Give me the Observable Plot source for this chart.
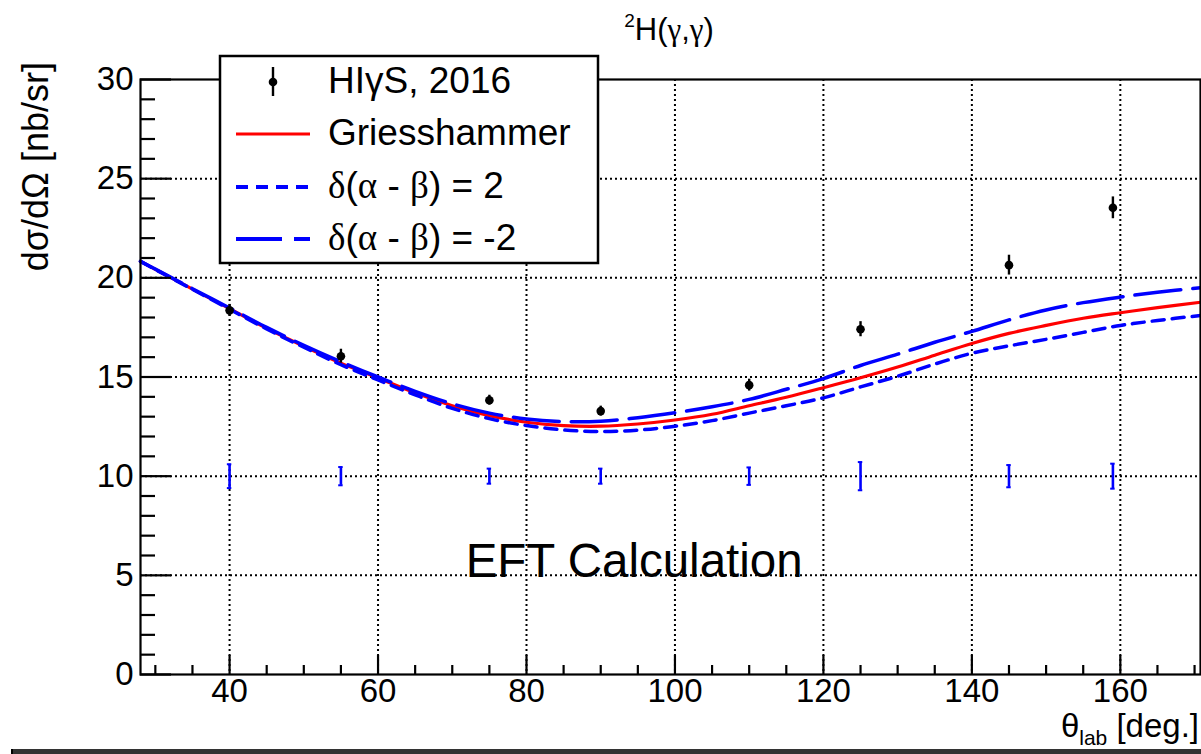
<!DOCTYPE html>
<html><head><meta charset="utf-8">
<script src="https://cdn.jsdelivr.net/npm/d3@7"></script>
<script src="https://cdn.jsdelivr.net/npm/@observablehq/plot@0.6"></script>
<style>
body{margin:0;background:#fff;width:1201px;height:754px;overflow:hidden;position:relative;font-family:"Liberation Sans",Arial,Helvetica,sans-serif}
#chart svg{overflow:visible}
#bar{position:absolute;left:11px;top:749px;width:1188px;height:5px;background:#333;border-left:2px solid #000}
</style></head><body><div id="chart"></div><div id="bar"></div>
<script>
// Curve abscissae (theta_lab, deg)
const theta = [28,30,35,40,45,50,55,60,65,70,75,80,85,90,95,100,105,110,115,120,125,130,135,140,145,150,155,160,165,170.8];
// Griesshammer EFT (solid red)
const griesshammer = [20.83,20.43,19.43,18.45,17.45,16.55,15.7,14.95,14.2,13.55,13.05,12.72,12.55,12.52,12.63,12.83,13.12,13.55,13.98,14.46,14.96,15.5,16.1,16.69,17.2,17.6,17.96,18.24,18.5,18.77];
// delta(alpha - beta) = 2 (short dash)
const deltaPlus2 = [20.83,20.42,19.42,18.42,17.42,16.5,15.62,14.85,14.1,13.42,12.9,12.55,12.33,12.25,12.32,12.52,12.8,13.18,13.55,13.95,14.5,15.04,15.65,16.2,16.57,16.9,17.25,17.6,17.85,18.1];
// delta(alpha - beta) = -2 (long dash)
const deltaMinus2 = [20.83,20.44,19.45,18.48,17.5,16.6,15.77,15.0,14.28,13.65,13.18,12.88,12.75,12.77,12.95,13.2,13.5,13.87,14.38,14.92,15.58,16.15,16.75,17.3,17.88,18.38,18.75,19.03,19.27,19.5];
// HIgS 2016 data
const dataTheta = [40,55,75,90,110,125,145,159];
const dataValue = [18.36,16.05,13.83,13.28,14.59,17.41,20.64,23.53];
const dataError = [0.3,0.35,0.25,0.25,0.3,0.38,0.5,0.55];
// systematic errors drawn at level 10
const sysLevel = 10;
const sysError = [0.6,0.46,0.38,0.38,0.44,0.71,0.56,0.63];
// axes
const xDomain = [28,170.8];
const yDomain = [0,30];
const xTicks = [40,60,80,100,120,140,160];
const xMinor = d3.range(30,171,5).filter(d => d % 20 !== 0);
const yTicks = [0,5,10,15,20,25,30];
const yMinor = d3.range(1,30,1).filter(d => d % 5 !== 0);
const annotation = {text:"EFT Calculation", theta:71.8, value:4.9};

const curves = [];
theta.forEach((t,i) => {
  curves.push({t, v: griesshammer[i], s: "g"});
  curves.push({t, v: deltaPlus2[i], s: "p"});
  curves.push({t, v: deltaMinus2[i], s: "m"});
});
const points = dataTheta.map((t,i) => ({t, v: dataValue[i], e: dataError[i], s: sysError[i]}));

const font = '"Liberation Sans", Arial, Helvetica, sans-serif';
const grid = {stroke:"#000", strokeWidth:2, strokeDasharray:"2,3", strokeOpacity:1};

const W = 1201, H = 749, mL = 140, mR = 1, mT = 79, mB = 75;
const innerW = W - mL - mR, innerH = H - mT - mB;
const tickStyle = {stroke:"#000", strokeWidth:2.2, strokeOpacity:1};

const plot = Plot.plot({
  width: W, height: H,
  marginLeft: mL, marginRight: mR, marginTop: mT, marginBottom: mB,
  style: {fontFamily: font, background: "transparent", overflow: "visible"},
  x: {domain: xDomain, axis: null},
  y: {domain: yDomain, axis: null},
  marks: [
    Plot.ruleX(xTicks, {x: d => d, ...grid}),
    Plot.ruleY(yTicks.filter(d => d > 0 && d < 30), {y: d => d, ...grid}),
    Plot.line(curves.filter(d => d.s === "g"), {x:"t", y:"v", stroke:"#ff0000", strokeWidth:3.2, curve:"catmull-rom"}),
    Plot.line(curves.filter(d => d.s === "p"), {x:"t", y:"v", stroke:"#0000ff", strokeWidth:3.5, strokeDasharray:"12,8", curve:"catmull-rom"}),
    Plot.line(curves.filter(d => d.s === "m"), {x:"t", y:"v", stroke:"#0000ff", strokeWidth:3.5, strokeDasharray:"46,12", curve:"catmull-rom"}),
    // systematic error bars
    Plot.ruleX(points, {x:"t", y1: d => sysLevel - d.s, y2: d => sysLevel + d.s, stroke:"#0000ff", strokeWidth:2.6}),
    Plot.ruleY(points, {y: d => sysLevel - d.s, x1: d => d.t - 0.3, x2: d => d.t + 0.3, stroke:"#0000ff", strokeWidth:2}),
    Plot.ruleY(points, {y: d => sysLevel + d.s, x1: d => d.t - 0.3, x2: d => d.t + 0.3, stroke:"#0000ff", strokeWidth:2}),
    // data
    Plot.ruleX(points, {x:"t", y1: d => d.v - d.e, y2: d => d.v + d.e, stroke:"#000", strokeWidth:2.4}),
    Plot.dot(points, {x:"t", y:"v", r:4.3, fill:"#000", stroke:"none"}),
    // annotation
    Plot.text([annotation], {x:"theta", y:"value", text:"text", textAnchor:"start", lineAnchor:"bottom", fontSize:47.5, fill:"#000", fontFamily: font}),
    // ticks (inside)
    Plot.ruleX(xTicks, {x: d => d, insetTop: innerH - 19, ...tickStyle}),
    Plot.ruleX(xMinor, {x: d => d, insetTop: innerH - 9, ...tickStyle}),
    Plot.ruleY(yTicks, {y: d => d, insetRight: innerW - 31, ...tickStyle}),
    Plot.ruleY(yMinor, {y: d => d, insetRight: innerW - 15, ...tickStyle}),
    Plot.frame({stroke:"#000", strokeWidth:2.2}),
    // tick labels
    Plot.text(xTicks, {x: d => d, text: d => String(d), frameAnchor:"bottom", dy:27, fontSize:33, fill:"#000", fontFamily: font}),
    Plot.text(yTicks, {y: d => d, text: d => String(d), frameAnchor:"left", dx:-7, textAnchor:"end", fontSize:33, fill:"#000", fontFamily: font})
  ]
});
document.getElementById("chart").appendChild(plot);

// titles and legend (SVG text)
const svg = d3.select(plot);
const serif = '"Liberation Serif", "Times New Roman", serif';

const title = svg.append("text").attr("x", 669).attr("y", 40).attr("text-anchor","middle")
  .attr("font-size", 31).attr("font-family", font).attr("fill","#000");
title.append("tspan").attr("font-size", 19).attr("dy", -13).text("2");
title.append("tspan").attr("dy", 13).text("H(");
title.append("tspan").attr("font-family", serif).text("γ");
title.append("tspan").text(",");
title.append("tspan").attr("font-family", serif).text("γ");
title.append("tspan").text(")");

svg.append("text").attr("transform","translate(48,62) rotate(-90)").attr("text-anchor","end")
  .attr("font-size", 36).attr("font-family", font).attr("fill","#000").text("dσ/dΩ [nb/sr]");

const xt = svg.append("text").attr("x", 1199).attr("y", 737).attr("text-anchor","end")
  .attr("font-size", 33).attr("font-family", font).attr("fill","#000");
xt.append("tspan").text("θ");
xt.append("tspan").attr("font-size", 21).attr("dy", 8).text("lab");
xt.append("tspan").attr("dy", -8).text(" [deg.]");

// legend
const lg = svg.append("g");
lg.append("rect").attr("x", 220).attr("y", 56).attr("width", 378).attr("height", 207)
  .attr("fill","#fff").attr("stroke","#000").attr("stroke-width", 2.5);
const rows = [
  {label: ["HIγS, 2016"], y: 93, kind: "data"},
  {label: ["Griesshammer"], y: 145, kind: "solid"},
  {label: ["δ","(","α"," - ","β",") = 2"], y: 198, kind: "short"},
  {label: ["δ","(","α"," - ","β",") = -2"], y: 250, kind: "long"}
];
const greek = new Set(["δ","α","β"]);
rows.forEach(r => {
  const cy = r.y - 11;
  if (r.kind === "data") {
    lg.append("line").attr("x1",273).attr("x2",273).attr("y1",cy-15).attr("y2",cy+14).attr("stroke","#000").attr("stroke-width",2.4);
    lg.append("circle").attr("cx",273).attr("cy",cy).attr("r",4.3).attr("fill","#000");
  } else {
    const l = lg.append("line").attr("x1",236).attr("x2",310).attr("y1",cy).attr("y2",cy)
      .attr("stroke", r.kind === "solid" ? "#ff0000" : "#0000ff").attr("stroke-width", r.kind === "solid" ? 3.2 : 3.8);
    if (r.kind === "short") l.attr("stroke-dasharray","12,8");
    if (r.kind === "long") l.attr("stroke-dasharray","46,12");
  }
  const t = lg.append("text").attr("x", 328).attr("y", r.y).attr("text-anchor","start")
    .attr("font-size", 37).attr("font-family", font).attr("fill","#000");
  r.label.forEach(s => {
    const sp = t.append("tspan").text(s);
    if (greek.has(s)) sp.attr("font-family", serif);
  });
});
</script></body></html>
